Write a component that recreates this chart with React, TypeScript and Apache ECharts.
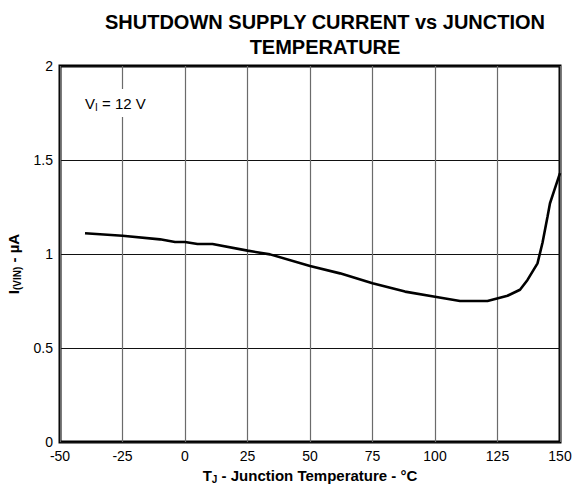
import React, { useEffect, useRef } from "react";
import * as echarts from "echarts";

const temps = [-40, -25, -10, -4, 0, 5, 11, 25, 34, 50, 62, 75, 88, 100, 110, 121, 129, 134, 137, 141, 143, 145, 146, 148, 150];
const current = [1.11, 1.097, 1.078, 1.064, 1.064, 1.053, 1.053, 1.018, 0.998, 0.936, 0.897, 0.845, 0.80, 0.773, 0.75, 0.75, 0.778, 0.81, 0.862, 0.95, 1.06, 1.198, 1.27, 1.35, 1.43];
const xTicks = { min: -50, max: 150, interval: 25 };
const yTicks = { min: 0, max: 2, interval: 0.5 };

export default function App() {
  const ref = useRef<HTMLDivElement>(null);
  useEffect(() => {
    if (!ref.current) return;
    const chart = echarts.init(ref.current, null, { renderer: "svg" });
    const font = "Liberation Sans, Arial, sans-serif";
    chart.setOption({
      animation: false,
      textStyle: { fontFamily: font },
      title: {
        text: "SHUTDOWN SUPPLY CURRENT vs JUNCTION\nTEMPERATURE",
        left: 320,
        top: 4,
        textAlign: "center",
        textStyle: { fontSize: 20, fontWeight: "bold", color: "#000", lineHeight: 25, fontFamily: font },
      },
      grid: {
        left: 60, top: 66, width: 500, height: 376,
        show: true, borderColor: "#000", borderWidth: 3, backgroundColor: "transparent",
        outerBoundsMode: "none",
        containLabel: false,
      },
      xAxis: {
        type: "value",
        ...xTicks,
        axisLine: { show: false },
        axisTick: { show: false },
        splitLine: { show: true, lineStyle: { color: "#6b6b6b", width: 1.2 } },
        axisLabel: { color: "#000", fontSize: 14, margin: 7, fontFamily: font },
        name: "{a|T}{s|J}{a| - Junction Temperature - °C}",
        nameLocation: "middle",
        nameGap: 24,
        nameTextStyle: {
          rich: {
            a: { fontSize: 15, fontWeight: "bold", color: "#000", fontFamily: font, lineHeight: 18 },
            s: { fontSize: 10, fontWeight: "bold", color: "#000", fontFamily: font, verticalAlign: "bottom", lineHeight: 14, padding: [7, 0, 0, 0] },
          },
        },
      },
      yAxis: {
        type: "value",
        ...yTicks,
        axisLine: { show: false },
        axisTick: { show: false },
        splitLine: { show: true, lineStyle: { color: "#111", width: 1.2 } },
        axisLabel: { color: "#000", fontSize: 14, margin: 7, fontFamily: font },
        name: "{a|I}{s|(VIN)}{a| - µA}",
        nameLocation: "middle",
        nameGap: 37,
        nameRotate: 90,
        nameTextStyle: {
          padding: [0, 20, 0, 0],
          rich: {
            a: { fontSize: 15, fontWeight: "bold", color: "#000", fontFamily: font, lineHeight: 18 },
            s: { fontSize: 10, fontWeight: "bold", color: "#000", fontFamily: font, verticalAlign: "bottom", lineHeight: 14, padding: [7, 0, 0, 0] },
          },
        },
      },
      graphic: [
        {
          type: "text",
          left: 81,
          top: 89,
          z: 10,
          style: {
            text: "{a|V}{s|I}{a| = 12 V}",
            backgroundColor: "#fff",
            padding: [5, 4, 5, 4],
            rich: {
              a: { fontSize: 15, fill: "#000", fontFamily: font, lineHeight: 18 },
              s: { fontSize: 10, fill: "#000", fontFamily: font, verticalAlign: "bottom", lineHeight: 14, padding: [7, 0, 0, 0] },
            },
          },
        },
      ],
      series: [
        {
          type: "line",
          data: temps.map((t, i) => [t, current[i]]),
          showSymbol: false,
          lineStyle: { color: "#000", width: 2.6 },
          z: 5,
        },
      ],
    });
    return () => chart.dispose();
  }, []);
  return <div ref={ref} style={{ position: "fixed", left: 0, top: 0, width: 575, height: 487, background: "#fff" }} />;
}
